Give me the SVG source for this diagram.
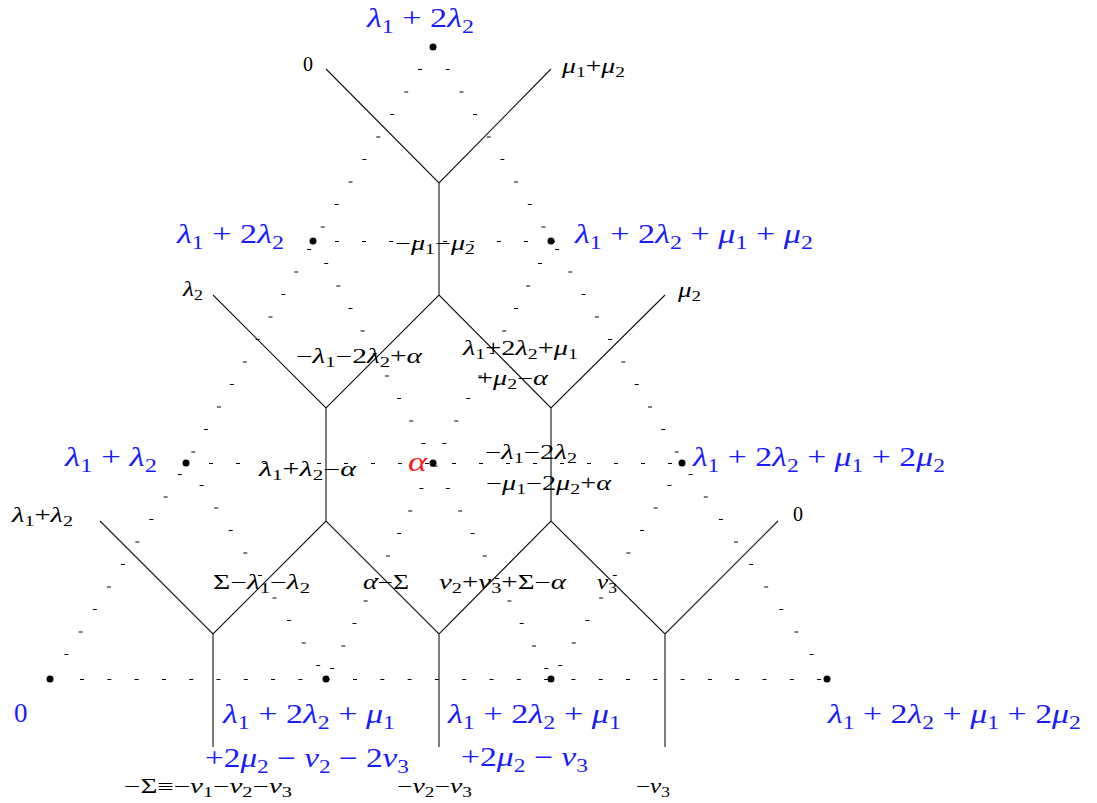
<svg xmlns="http://www.w3.org/2000/svg" width="1097" height="803" viewBox="0 0 1097 803">
<style>
.k{font-family:'Liberation Serif','DejaVu Serif',serif;font-size:20px;fill:#000}
.b{font-family:'Liberation Serif','DejaVu Serif',serif;font-size:27px;fill:#1a1aff}
.r{font-family:'Liberation Serif','DejaVu Serif',serif;font-size:27px;fill:#ff1a1a}
.i{font-style:italic}
.s{font-size:0.7em}
.dash{fill:none;stroke:#000;stroke-width:1}
.row{stroke:#000;stroke-width:1;stroke-dasharray:4 23}
.hc{fill:none;stroke:#111;stroke-width:1.1}
.dot{fill:#000}
</style>
<rect width="1097" height="803" fill="#fff"/>
<g id="lattice">
<line class="row" x1="335" y1="241.5" x2="555" y2="241.5"/>
<line class="row" x1="209" y1="463.5" x2="675" y2="463.5"/>
<line class="row" x1="80" y1="679.5" x2="830" y2="679.5" style="stroke-dasharray:4 23.3"/>
<path class="dash" d="M418.1 69.5h4M404.2 92h4M390.2 114.5h4M376.3 137h4M362.4 159.5h4M348.5 182h4M334.6 204.5h4M320.7 227h4M307.1 249.5h4M294.3 272h4M281.4 294.5h4M268.5 317h4M255.6 339.5h4M242.8 362h4M229.9 384.5h4M217 407h4M204.1 429.5h4M191.3 452h4M177.8 474.5h4M163.6 497h4M149.4 519.5h4M135.3 542h4M121.1 564.5h4M106.9 587h4M92.8 609.5h4M78.6 632h4M64.4 654.5h4"/>
<path class="dash" d="M538 263.5h4M526.1 286h4M514.1 308.5h4M502.2 331h4M490.2 353.5h4M478.2 376h4M466.3 398.5h4M454.3 421h4M442.4 443.5h4M430.5 466h4M419.4 488.5h4M408.2 511h4M397.1 533.5h4M385.9 556h4M374.8 578.5h4M363.7 601h4M352.5 623.5h4M341.4 646h4M330.2 668.5h4"/>
<path class="dash" d="M667.4 485.5h4M653.7 508h4M640 530.5h4M626.4 553h4M612.8 575.5h4M599.1 598h4M585.5 620.5h4M571.8 643h4M558.2 665.5h4"/>
<path class="dash" d="M445.7 69.5h4M459.4 92h4M473.1 114.5h4M486.7 137h4M500.4 159.5h4M514.1 182h4M527.8 204.5h4M541.5 227h4M555 249.5h4M568.3 272h4M581.6 294.5h4M594.9 317h4M608.1 339.5h4M621.4 362h4M634.7 384.5h4M648 407h4M661.3 429.5h4M674.6 452h4M688.7 474.5h4M703.8 497h4M718.9 519.5h4M734 542h4M749.1 564.5h4M764.2 587h4M779.3 609.5h4M794.4 632h4M809.5 654.5h4"/>
<path class="dash" d="M324.2 263.5h4M336.3 286h4M348.5 308.5h4M360.6 331h4M372.8 353.5h4M385 376h4M397.1 398.5h4M409.3 421h4M421.5 443.5h4M433.6 466h4M445.9 488.5h4M458.2 511h4M470.5 533.5h4M482.8 556h4M495.1 578.5h4M507.4 601h4M519.7 623.5h4M532 646h4M544.3 668.5h4"/>
<path class="dash" d="M199.6 485.5h4M214.2 508h4M228.7 530.5h4M243.3 553h4M257.9 575.5h4M272.5 598h4M287.1 620.5h4M301.7 643h4M316.2 665.5h4"/>
</g>
<g id="connectors">
<path class="hc" d="M326 69L439 183L551 69M439 183V295M213 295L326 408L439 295L551 408L665 295M326 408V521M551 408V521M100 521L213 634L326 521L439 634L551 521L665 634L778 521M213 634V747M439 634V747M665 634V747"/>
</g>
<g id="edge-labels">
<text class="k" x="303" y="71">0</text>
<text class="k" x="562" y="73" textLength="63" lengthAdjust="spacingAndGlyphs"><tspan class="i">μ</tspan><tspan class="s" dy="4">1</tspan><tspan dy="-4">+</tspan><tspan class="i">μ</tspan><tspan class="s" dy="4">2</tspan></text>
<text class="k" x="183" y="296" textLength="20" lengthAdjust="spacingAndGlyphs"><tspan class="i">λ</tspan><tspan class="s" dy="4">2</tspan></text>
<text class="k" x="678" y="297" textLength="23" lengthAdjust="spacingAndGlyphs"><tspan class="i">μ</tspan><tspan class="s" dy="4">2</tspan></text>
<text class="k" x="12" y="522" textLength="61" lengthAdjust="spacingAndGlyphs"><tspan class="i">λ</tspan><tspan class="s" dy="4">1</tspan><tspan dy="-4">+</tspan><tspan class="i">λ</tspan><tspan class="s" dy="4">2</tspan></text>
<text class="k" x="793" y="521">0</text>
<text class="k" x="395" y="250" textLength="80" lengthAdjust="spacingAndGlyphs">−<tspan class="i">μ</tspan><tspan class="s" dy="4">1</tspan><tspan dy="-4">−</tspan><tspan class="i">μ</tspan><tspan class="s" dy="4">2</tspan></text>
<text class="k" x="296" y="363" textLength="126" lengthAdjust="spacingAndGlyphs">−<tspan class="i">λ</tspan><tspan class="s" dy="4">1</tspan><tspan dy="-4">−2</tspan><tspan class="i">λ</tspan><tspan class="s" dy="4">2</tspan><tspan dy="-4">+</tspan><tspan class="i">α</tspan></text>
<text class="k" x="463" y="355" textLength="115" lengthAdjust="spacingAndGlyphs"><tspan class="i">λ</tspan><tspan class="s" dy="4">1</tspan><tspan dy="-4">+2</tspan><tspan class="i">λ</tspan><tspan class="s" dy="4">2</tspan><tspan dy="-4">+</tspan><tspan class="i">μ</tspan><tspan class="s" dy="4">1</tspan></text>
<text class="k" x="477" y="385" textLength="71" lengthAdjust="spacingAndGlyphs">+<tspan class="i">μ</tspan><tspan class="s" dy="4">2</tspan><tspan dy="-4">−</tspan><tspan class="i">α</tspan></text>
<text class="k" x="259" y="476" textLength="97" lengthAdjust="spacingAndGlyphs"><tspan class="i">λ</tspan><tspan class="s" dy="4">1</tspan><tspan dy="-4">+</tspan><tspan class="i">λ</tspan><tspan class="s" dy="4">2</tspan><tspan dy="-4">−</tspan><tspan class="i">α</tspan></text>
<text class="k" x="485" y="459" textLength="92" lengthAdjust="spacingAndGlyphs">−<tspan class="i">λ</tspan><tspan class="s" dy="4">1</tspan><tspan dy="-4">−2</tspan><tspan class="i">λ</tspan><tspan class="s" dy="4">2</tspan></text>
<text class="k" x="486" y="490" textLength="125" lengthAdjust="spacingAndGlyphs">−<tspan class="i">μ</tspan><tspan class="s" dy="4">1</tspan><tspan dy="-4">−2</tspan><tspan class="i">μ</tspan><tspan class="s" dy="4">2</tspan><tspan dy="-4">+</tspan><tspan class="i">α</tspan></text>
<text class="k" x="213" y="589" textLength="97" lengthAdjust="spacingAndGlyphs">Σ−<tspan class="i">λ</tspan><tspan class="s" dy="4">1</tspan><tspan dy="-4">−</tspan><tspan class="i">λ</tspan><tspan class="s" dy="4">2</tspan></text>
<text class="k" x="363" y="589" textLength="46" lengthAdjust="spacingAndGlyphs"><tspan class="i">α</tspan>−Σ</text>
<text class="k" x="439" y="589" textLength="127" lengthAdjust="spacingAndGlyphs"><tspan class="i">ν</tspan><tspan class="s" dy="4">2</tspan><tspan dy="-4">+</tspan><tspan class="i">ν</tspan><tspan class="s" dy="4">3</tspan><tspan dy="-4">+Σ−</tspan><tspan class="i">α</tspan></text>
<text class="k" x="597" y="589" textLength="20" lengthAdjust="spacingAndGlyphs"><tspan class="i">ν</tspan><tspan class="s" dy="4">3</tspan></text>
<text class="k" x="124" y="793" textLength="168" lengthAdjust="spacingAndGlyphs">−Σ≡−<tspan class="i">ν</tspan><tspan class="s" dy="4">1</tspan><tspan dy="-4">−</tspan><tspan class="i">ν</tspan><tspan class="s" dy="4">2</tspan><tspan dy="-4">−</tspan><tspan class="i">ν</tspan><tspan class="s" dy="4">3</tspan></text>
<text class="k" x="397" y="793" textLength="75" lengthAdjust="spacingAndGlyphs">−<tspan class="i">ν</tspan><tspan class="s" dy="4">2</tspan><tspan dy="-4">−</tspan><tspan class="i">ν</tspan><tspan class="s" dy="4">3</tspan></text>
<text class="k" x="636" y="793" textLength="34" lengthAdjust="spacingAndGlyphs">−<tspan class="i">ν</tspan><tspan class="s" dy="4">3</tspan></text>
</g>
<g id="n-top">
<circle class="dot" cx="433" cy="47" r="3.5"/>
<text class="b" x="367" y="27" textLength="107" lengthAdjust="spacingAndGlyphs"><tspan class="i">λ</tspan><tspan class="s" dy="6">1</tspan><tspan dy="-6"> + 2</tspan><tspan class="i">λ</tspan><tspan class="s" dy="6">2</tspan></text>
</g>
<g id="n-l1">
<circle class="dot" cx="313" cy="241" r="3.5"/>
<text class="b" x="177" y="243" textLength="107" lengthAdjust="spacingAndGlyphs"><tspan class="i">λ</tspan><tspan class="s" dy="6">1</tspan><tspan dy="-6"> + 2</tspan><tspan class="i">λ</tspan><tspan class="s" dy="6">2</tspan></text>
</g>
<g id="n-r1">
<circle class="dot" cx="551" cy="241" r="3.5"/>
<text class="b" x="575" y="243" textLength="238" lengthAdjust="spacingAndGlyphs"><tspan class="i">λ</tspan><tspan class="s" dy="6">1</tspan><tspan dy="-6"> + 2</tspan><tspan class="i">λ</tspan><tspan class="s" dy="6">2</tspan><tspan dy="-6"> + </tspan><tspan class="i">μ</tspan><tspan class="s" dy="6">1</tspan><tspan dy="-6"> + </tspan><tspan class="i">μ</tspan><tspan class="s" dy="6">2</tspan></text>
</g>
<g id="n-l2">
<circle class="dot" cx="186" cy="463" r="3.5"/>
<text class="b" x="65" y="466" textLength="92" lengthAdjust="spacingAndGlyphs"><tspan class="i">λ</tspan><tspan class="s" dy="6">1</tspan><tspan dy="-6"> + </tspan><tspan class="i">λ</tspan><tspan class="s" dy="6">2</tspan></text>
</g>
<g id="n-alpha">
<circle class="dot" cx="433" cy="463" r="3.5"/>
<text class="r i" x="408" y="471" textLength="19" lengthAdjust="spacingAndGlyphs">α</text>
</g>
<g id="n-r2">
<circle class="dot" cx="682" cy="463" r="3.5"/>
<text class="b" x="693" y="466" textLength="252" lengthAdjust="spacingAndGlyphs"><tspan class="i">λ</tspan><tspan class="s" dy="6">1</tspan><tspan dy="-6"> + 2</tspan><tspan class="i">λ</tspan><tspan class="s" dy="6">2</tspan><tspan dy="-6"> + </tspan><tspan class="i">μ</tspan><tspan class="s" dy="6">1</tspan><tspan dy="-6"> + 2</tspan><tspan class="i">μ</tspan><tspan class="s" dy="6">2</tspan></text>
</g>
<g id="n-b0">
<circle class="dot" cx="50" cy="679" r="3.5"/>
<text class="b" x="14" y="722">0</text>
</g>
<g id="n-b1">
<circle class="dot" cx="326" cy="679" r="3.5"/>
<text class="b" x="223" y="723" textLength="172" lengthAdjust="spacingAndGlyphs"><tspan class="i">λ</tspan><tspan class="s" dy="6">1</tspan><tspan dy="-6"> + 2</tspan><tspan class="i">λ</tspan><tspan class="s" dy="6">2</tspan><tspan dy="-6"> + </tspan><tspan class="i">μ</tspan><tspan class="s" dy="6">1</tspan></text>
<text class="b" x="205" y="767" textLength="204" lengthAdjust="spacingAndGlyphs">+2<tspan class="i">μ</tspan><tspan class="s" dy="6">2</tspan><tspan dy="-6"> − </tspan><tspan class="i">ν</tspan><tspan class="s" dy="6">2</tspan><tspan dy="-6"> − 2</tspan><tspan class="i">ν</tspan><tspan class="s" dy="6">3</tspan></text>
</g>
<g id="n-b2">
<circle class="dot" cx="551" cy="679" r="3.5"/>
<text class="b" x="448" y="723" textLength="173" lengthAdjust="spacingAndGlyphs"><tspan class="i">λ</tspan><tspan class="s" dy="6">1</tspan><tspan dy="-6"> + 2</tspan><tspan class="i">λ</tspan><tspan class="s" dy="6">2</tspan><tspan dy="-6"> + </tspan><tspan class="i">μ</tspan><tspan class="s" dy="6">1</tspan></text>
<text class="b" x="461" y="766" textLength="127" lengthAdjust="spacingAndGlyphs">+2<tspan class="i">μ</tspan><tspan class="s" dy="6">2</tspan><tspan dy="-6"> − </tspan><tspan class="i">ν</tspan><tspan class="s" dy="6">3</tspan></text>
</g>
<g id="n-b3">
<circle class="dot" cx="827" cy="679" r="3.5"/>
<text class="b" x="828" y="723" textLength="253" lengthAdjust="spacingAndGlyphs"><tspan class="i">λ</tspan><tspan class="s" dy="6">1</tspan><tspan dy="-6"> + 2</tspan><tspan class="i">λ</tspan><tspan class="s" dy="6">2</tspan><tspan dy="-6"> + </tspan><tspan class="i">μ</tspan><tspan class="s" dy="6">1</tspan><tspan dy="-6"> + 2</tspan><tspan class="i">μ</tspan><tspan class="s" dy="6">2</tspan></text>
</g>
</svg>
